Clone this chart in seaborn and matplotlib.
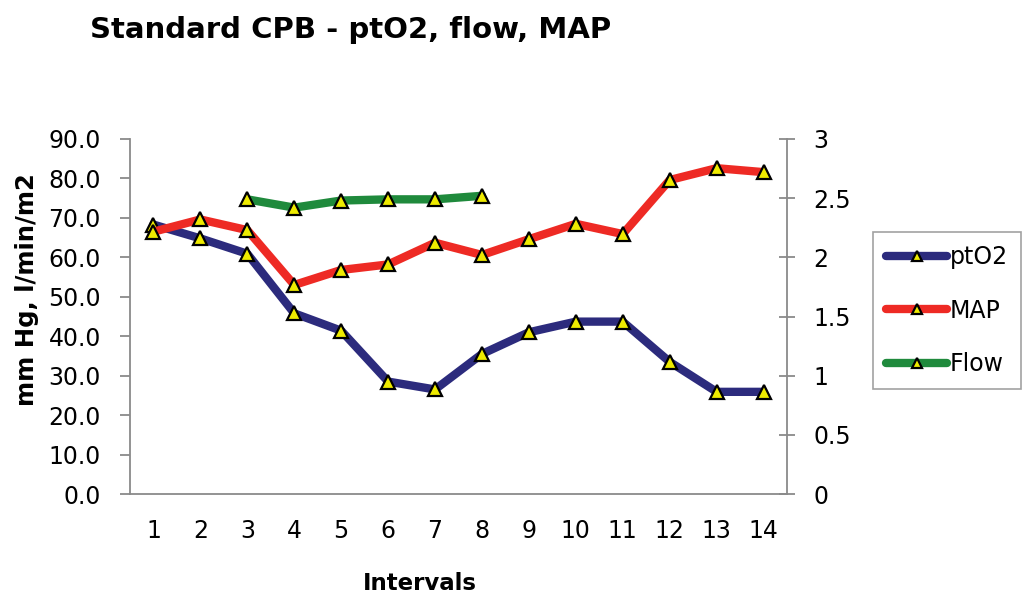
import numpy as np
import pandas as pd
import matplotlib
matplotlib.use("Agg")
import matplotlib.pyplot as plt
import seaborn as sns

# Measurement intervals and series
intervals = list(range(1, 15))
pto2 = [68.3, 64.8, 60.9, 45.8, 41.4, 28.5, 26.5, 35.5, 41.0, 43.7, 43.7, 33.5, 25.9, 25.9]
map_vals = [66.5, 69.6, 66.9, 53.0, 56.8, 58.2, 63.7, 60.6, 64.6, 68.5, 65.9, 79.6, 82.6, 81.6]
flow_intervals = [3, 4, 5, 6, 7, 8]
flow = [2.49, 2.42, 2.48, 2.49, 2.49, 2.52]

left_ticks = [0, 10, 20, 30, 40, 50, 60, 70, 80, 90]
right_ticks = [0, 0.5, 1, 1.5, 2, 2.5, 3]
right_tick_labels = ["0", "0.5", "1", "1.5", "2", "2.5", "3"]

colors = {"ptO2": "#2C2B7D", "MAP": "#EE2A24", "Flow": "#1F8A3C"}
marker_fill = "#EEEA00"

sns.set_style("white")
plt.rcParams["font.family"] = ["DejaVu Sans"]
plt.rcParams["text.color"] = "black"

df_main = pd.DataFrame({"Interval": intervals, "ptO2": pto2, "MAP": map_vals})
df_flow = pd.DataFrame({"Interval": flow_intervals, "Flow": flow})

fig = plt.figure(figsize=(10.29, 5.97), dpi=100)
ax = fig.add_axes([130 / 1029, 1 - 494 / 597, (787 - 130) / 1029, (494 - 139) / 597])
ax2 = ax.twinx()

line_kw = dict(linewidth=6, marker="^", markersize=9.5,
               markerfacecolor=marker_fill, markeredgecolor="black",
               markeredgewidth=1.6)

sns.lineplot(data=df_main, x="Interval", y="ptO2", ax=ax, color=colors["ptO2"],
             label="ptO2", **line_kw)
sns.lineplot(data=df_main, x="Interval", y="MAP", ax=ax, color=colors["MAP"],
             label="MAP", **line_kw)
sns.lineplot(data=df_flow, x="Interval", y="Flow", ax=ax2, color=colors["Flow"],
             label="Flow", **line_kw)

h1, l1 = ax.get_legend_handles_labels()
h2, l2 = ax2.get_legend_handles_labels()
for a in (ax, ax2):
    if a.get_legend() is not None:
        a.get_legend().remove()

spine_col = "#8A8A8A"
ax.set_xlim(0.5, 14.5)
ax.set_ylim(0, 90)
ax2.set_ylim(0, 3)

ax.set_yticks(left_ticks)
ax.set_yticklabels([f"{v:.1f}" for v in left_ticks])
ax2.set_yticks(right_ticks)
ax2.set_yticklabels(right_tick_labels)

ax.set_xticks(intervals)
ax.set_xticklabels([str(i) for i in intervals])
ax.set_xticks(np.arange(0.5, 15.0, 1.0), minor=True)

ax.set_xlabel("")
ax.set_ylabel("")
ax2.set_ylabel("")

for a in (ax, ax2):
    a.spines["top"].set_visible(False)
    for s in ("left", "right", "bottom"):
        a.spines[s].set_color(spine_col)
        a.spines[s].set_linewidth(1.3)
ax.spines["right"].set_visible(False)
ax2.spines["left"].set_visible(False)
ax2.spines["bottom"].set_visible(False)

ax.tick_params(axis="y", which="major", direction="out", length=7, width=1.3,
               color=spine_col, pad=14, labelsize=17, labelcolor="black")
ax.tick_params(axis="x", which="major", length=0, pad=18, labelsize=17,
               labelcolor="black")
ax.tick_params(axis="x", which="minor", direction="out", length=7, width=1.3,
               color=spine_col)
ax2.tick_params(axis="y", which="major", direction="inout", length=12, width=1.3,
                color=spine_col, pad=13, labelsize=17, labelcolor="black")

fig.text(90 / 1029, 1 - 30 / 597, "Standard CPB - ptO2, flow, MAP",
         ha="left", va="center", fontsize=21, fontweight="bold", color="black")
fig.text(420 / 1029, 1 - 583 / 597, "Intervals",
         ha="center", va="center", fontsize=16.5, fontweight="bold", color="black")
fig.text(27 / 1029, 1 - 290 / 597, "mm Hg, l/min/m2", rotation=90,
         ha="center", va="center", fontsize=17.5, fontweight="bold", color="black")

leg = fig.legend(h1 + h2, l1 + l2, loc="upper left",
                 bbox_to_anchor=(873 / 1029, 1 - 232 / 597),
                 bbox_transform=fig.transFigure, fontsize=17,
                 frameon=True, fancybox=False, borderaxespad=0,
                 handlelength=2.6, handletextpad=0.1, labelspacing=1.25,
                 borderpad=0.55, markerscale=0.75)
leg.get_frame().set_edgecolor(spine_col)
leg.get_frame().set_linewidth(1.2)
for t in leg.get_texts():
    t.set_color("black")

fig.savefig("out.png", dpi=100)
